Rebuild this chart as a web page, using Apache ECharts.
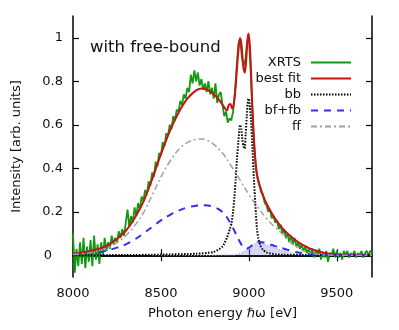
<!DOCTYPE html>
<html>
<head>
<meta charset="utf-8">
<script src="https://cdn.jsdelivr.net/npm/echarts@6/dist/echarts.min.js"></script>
<style>
html,body{margin:0;padding:0;background:#fff;}
#chart{width:399px;height:330px;}
</style>
</head>
<body>
<div id="chart"></div>
<script>
// ---- data ----
const xTicks = [8000, 8500, 9000, 9500];
const yTicks = [0, 0.2, 0.4, 0.6, 0.8, 1];

// XRTS measured spectrum, sampled every 10 eV starting at 8000 eV
const xrtsStart = 8000;
const xrtsStep = 10;
const xrtsV = [
 0.10,-0.08,0.03,-0.05,0.06,-0.04,0.08,-0.06,0.04,-0.03,
 0.07,-0.05,0.09,-0.02,0.05,-0.04,0.06,0.00,0.08,0.02,
 0.06,0.03,0.09,0.05,0.08,0.06,0.11,0.08,0.12,0.09,
 0.15,0.21,0.13,0.18,0.15,0.22,0.18,0.24,0.21,0.27,
 0.25,0.30,0.28,0.34,0.32,0.38,0.36,0.43,0.41,0.47,
 0.46,0.52,0.50,0.56,0.55,0.60,0.58,0.64,0.62,0.67,
 0.66,0.71,0.69,0.74,0.72,0.77,0.75,0.83,0.79,0.85,
 0.80,0.84,0.78,0.81,0.76,0.79,0.75,0.80,0.74,0.77,
 0.72,0.79,0.70,0.74,0.75,0.69,0.64,0.66,0.61,0.63,
 0.62,0.66,0.74,0.86,0.97,1.00,0.91,0.87,0.90,0.98,
 1.00,0.85,0.66,0.50,0.40,0.35,0.32,0.29,0.28,0.24,
 0.23,0.20,0.21,0.17,0.18,0.15,0.16,0.12,0.14,0.10,
 0.12,0.08,0.10,0.06,0.09,0.05,0.08,0.04,0.06,0.03,
 0.05,0.02,0.04,0.01,0.03,0.00,0.03,-0.01,0.02,0.00,
 0.03,-0.02,0.01,-0.01,0.02,-0.03,0.01,0.00,0.03,-0.01,
 0.02,-0.01,0.01,-0.02,0.02,0.00,0.02,-0.01,0.01,0.00,
 0.02,-0.01,0.01,0.00,0.02,-0.01,0.01,0.02,0.00,0.02,
 0.01
];

// best fit
const fitE = [8000,8050,8100,8150,8200,8250,8300,8350,8400,8450,8500,8550,8600,8650,8700,8730,8760,8800,8830,8860,8875,8885,8895,8905,8915,8925,8935,8945,8952,8960,8968,8977,8985,8992,8998,9005,9012,9020,9030,9040,9050,9062,9080,9100,9125,9150,9175,9200,9233,9250,9300,9330,9350,9400,9450,9500,9600,9700];
const fitV = [0.008,0.012,0.02,0.03,0.048,0.075,0.112,0.17,0.245,0.35,0.465,0.57,0.655,0.72,0.758,0.767,0.762,0.74,0.715,0.68,0.665,0.69,0.695,0.675,0.70,0.78,0.89,0.975,0.997,0.95,0.87,0.84,0.90,0.99,1.02,0.97,0.85,0.68,0.52,0.41,0.355,0.32,0.275,0.238,0.2,0.168,0.14,0.115,0.091,0.078,0.05,0.038,0.03,0.017,0.008,0.004,0.001,0.0];

// bound-bound
const bbE = [8000,8300,8500,8700,8800,8850,8875,8892,8902,8910,8918,8925,8932,8940,8946,8950,8957,8963,8970,8976,8982,8988,8995,9000,9006,9012,9020,9028,9034,9040,9046,9053,9065,9080,9100,9150,9200,9300,9700];
const bbV = [0,0.001,0.003,0.007,0.015,0.04,0.08,0.12,0.15,0.2,0.27,0.35,0.44,0.52,0.58,0.60,0.58,0.53,0.50,0.49,0.56,0.64,0.715,0.72,0.68,0.62,0.50,0.36,0.27,0.19,0.12,0.08,0.045,0.025,0.013,0.004,0.002,0.001,0];

// bound-free + free-bound
const bfE = [8000,8100,8170,8250,8300,8350,8400,8450,8500,8550,8600,8650,8700,8750,8800,8840,8870,8900,8925,8950,8970,8985,9000,9025,9050,9075,9100,9150,9200,9250,9300,9350,9400,9500,9700];
const bfV = [0.004,0.01,0.017,0.035,0.05,0.072,0.1,0.13,0.16,0.185,0.205,0.22,0.228,0.23,0.222,0.205,0.18,0.14,0.1,0.06,0.035,0.03,0.035,0.05,0.062,0.06,0.055,0.042,0.03,0.018,0.01,0.005,0.002,0,0];

// free-free
const ffE = [8000,8100,8200,8250,8300,8350,8400,8450,8500,8550,8600,8650,8700,8730,8760,8800,8850,8900,8950,9000,9044,9100,9138,9200,9233,9280,9328,9400,9500,9700];
const ffV = [0.004,0.012,0.035,0.058,0.09,0.135,0.195,0.275,0.36,0.43,0.485,0.518,0.533,0.535,0.53,0.51,0.47,0.41,0.345,0.28,0.228,0.17,0.137,0.09,0.061,0.035,0.015,0.004,0,0];

// shaded free-bound contribution
const fbE = [8450,8900,8930,8960,8990,9010,9030,9050,9060,9080,9100,9138,9180,9233,9280,9330,9400];
const fbV = [0,0.001,0.004,0.012,0.025,0.036,0.05,0.062,0.062,0.054,0.046,0.038,0.024,0.013,0.006,0.002,0];

const legendNames = ['XRTS','best fit','bb','bf+fb','ff'];

// ---- build ----
function pairs(E, V){ return E.map((e,i)=>[e, V[i]]); }
const xrtsData = xrtsV.map((v,i)=>[xrtsStart + i*xrtsStep, v]);

const FONT = 'DejaVu Sans';
const chart = echarts.init(document.getElementById('chart'), null, {renderer:'canvas'});

const tickStyle = {show:true, inside:true, length:6, lineStyle:{color:'#000', width:1.2}};
const axisLineStyle = {show:true, lineStyle:{color:'#000', width:1.5}};

chart.setOption({
  animation:false,
  backgroundColor:'#fff',
  textStyle:{fontFamily:FONT},
  grid:{left:73, right:27, top:16, bottom:53, containLabel:false},
  legend:{
    data:legendNames,
    orient:'vertical',
    align:'right',
    right:42,
    top:51,
    itemWidth:40,
    itemHeight:10,
    itemGap:3,
    itemStyle:{color:'rgba(0,0,0,0)', borderWidth:0, opacity:0},
    textStyle:{fontFamily:FONT, fontSize:13, color:'#111', padding:[0,5,0,0]},
    selectedMode:false
  },
  graphic:[{
    type:'text', left:90, top:39,
    style:{text:'with free-bound', fontFamily:FONT, fontSize:16.5, fill:'#111'}
  }],
  xAxis:[{
    type:'value', min:8000, max:9700, position:'bottom',
    name:'Photon energy ℏω [eV]', nameLocation:'middle', nameGap:30,
    nameTextStyle:{fontFamily:FONT, fontSize:13, color:'#111'},
    axisLine:axisLineStyle,
    axisTick:Object.assign({customValues:xTicks}, tickStyle),
    axisLabel:{customValues:xTicks, fontFamily:FONT, fontSize:13, color:'#111', margin:10,
      formatter:function(v){ return String(Math.round(v)); }},
    splitLine:{show:false}
  },{
    type:'value', min:8000, max:9700, position:'top',
    axisLine:axisLineStyle,
    axisTick:Object.assign({customValues:xTicks}, tickStyle),
    axisLabel:{show:false},
    splitLine:{show:false}
  }],
  yAxis:[{
    type:'value', min:-0.1, max:1.1, position:'left',
    name:'Intensity [arb. units]', nameLocation:'middle', nameGap:50,
    nameTextStyle:{fontFamily:FONT, fontSize:13, color:'#111'},
    axisLine:axisLineStyle,
    axisTick:Object.assign({customValues:yTicks}, tickStyle),
    axisLabel:{customValues:yTicks, fontFamily:FONT, fontSize:13, color:'#111', margin:10,
      formatter:function(v){ return v===0 ? '{z|0}' : String(+v.toFixed(1)); },
      rich:{z:{fontFamily:FONT, fontSize:13, color:'#111', padding:[0,11,0,0]}}},
    splitLine:{show:false}
  },{
    type:'value', min:-0.1, max:1.1, position:'right',
    axisLine:axisLineStyle,
    axisTick:Object.assign({customValues:yTicks}, tickStyle),
    axisLabel:{show:false},
    splitLine:{show:false}
  }],
  series:[
    {name:'fbshade', type:'line', data:pairs(fbE,fbV), symbol:'none', smooth:0.3,
      lineStyle:{color:'#a8a8e8', width:1.5, type:[1,2]},
      areaStyle:{color:'rgba(150,150,225,0.55)'}, z:1, silent:true},
    {name:'XRTS', type:'line', data:xrtsData, symbol:'none',
      lineStyle:{color:'#119911', width:1.8}, itemStyle:{color:'#119911'}, z:2},
    {name:'best fit', type:'line', data:pairs(fitE,fitV), symbol:'none', smooth:0.3,
      lineStyle:{color:'#cc1111', width:2}, itemStyle:{color:'#cc1111'}, z:3},
    {name:'bb', type:'line', data:pairs(bbE,bbV), symbol:'none', smooth:0.2,
      lineStyle:{color:'#000', width:2, type:[1.5,1.5]}, itemStyle:{color:'#000'}, z:4},
    {name:'bf+fb', type:'line', data:pairs(bfE,bfV), symbol:'none', smooth:0.4,
      lineStyle:{color:'#3030e8', width:2, type:[7,6]}, itemStyle:{color:'#3030e8'}, z:5},
    {name:'ff', type:'line', data:pairs(ffE,ffV), symbol:'none', smooth:0.4,
      lineStyle:{color:'#a0a0a0', width:1.5, type:[6,3,2,3]}, itemStyle:{color:'#a0a0a0'}, z:6}
  ]
});
</script>
</body>
</html>
